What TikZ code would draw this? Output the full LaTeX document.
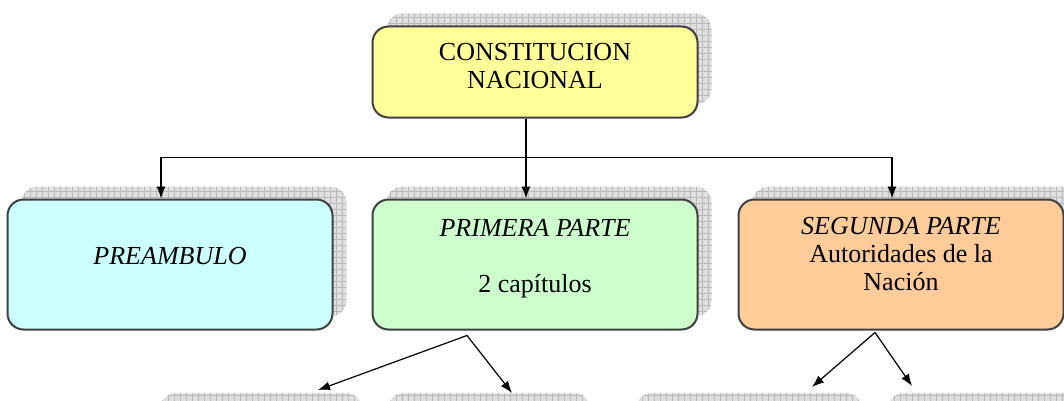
\documentclass[tikz,border=0pt]{standalone}
\usepackage{fontspec}
\setmainfont{Liberation Serif}
\usetikzlibrary{positioning,shadows,patterns,arrows.meta}
\definecolor{cnyellow}{HTML}{FFFF99}
\definecolor{precyan}{HTML}{CCFFFF}
\definecolor{prigreen}{HTML}{CCFFCC}
\definecolor{segorange}{HTML}{FFCC99}
\newcommand{\liftup}[2][3.5pt]{\raisebox{#1}[\height][\depth]{\begin{tabular}{@{}c@{}}#2\end{tabular}}}
\tikzset{
  gridshade/.style={fill=gray!25, postaction={pattern=grid, pattern color=gray!55}},
  part/.style={draw=black!75, line width=1pt, rounded corners=8pt,
    minimum width=162.5pt, minimum height=65pt, align=center, inner sep=2pt,
    font=\fontsize{13}{14}\selectfont,
    general shadow={shadow xshift=7pt, shadow yshift=6.5pt, gridshade}},
  link/.style={-{Latex[length=6pt,width=4.5pt]}, line width=0.6pt}
}
\begin{document}
\begin{tikzpicture}[x=0.5pt, y=-0.5pt]
  \useasboundingbox (0,0) rectangle (1064,401);
  \node[part, fill=cnyellow, minimum height=45.5pt] (cn) at (535,72) {\liftup[1.5pt]{CONSTITUCION\\NACIONAL}};
  \node[part, fill=prigreen, below=40pt of cn] (pri) {\liftup[3pt]{\textit{PRIMERA PARTE}\\[14pt]2 capítulos}};
  \node[part, fill=precyan, left=19pt of pri] (pre) {\liftup[3pt]{\textit{PREAMBULO}}};
  \node[part, fill=segorange, right=19.5pt of pri] (seg) {\liftup[4pt]{\textit{SEGUNDA PARTE}\\Autoridades de la\\Nación}};
  % shadows of the next row
  \fill[gridshade, rounded corners=8pt] (160,393) rectangle (362,450);
  \fill[gridshade, rounded corners=8pt] (388,393) rectangle (590,450);
  \fill[gridshade, rounded corners=8pt] (636,393) rectangle (862,450);
  \fill[gridshade, rounded corners=8pt] (888,393) rectangle (1080,450);
  % connectors
  \coordinate (bus) at ([xshift=-4.5pt, yshift=-19.5pt]cn.south);
  \draw[link] ([xshift=-4.5pt]cn.south) -- ([xshift=-4.5pt]pri.north);
  \draw[link] (bus) -| ([xshift=-4.5pt]pre.north);
  \draw[link] (bus) -| ([xshift=-4.5pt]seg.north);
  \coordinate (prifork) at ([xshift=-34pt, yshift=-2.5pt]pri.south);
  \coordinate (segfork) at ([xshift=-13pt, yshift=-1pt]seg.south);
  \coordinate (a1) at (318,390);
  \coordinate (a2) at (512,393);
  \coordinate (a3) at (812,387);
  \coordinate (a4) at (912,386);
  \draw[link] (prifork) -- (a1);
  \draw[link] (prifork) -- (a2);
  \draw[link] (segfork) -- (a3);
  \draw[link] (segfork) -- (a4);
\end{tikzpicture}
\end{document}
